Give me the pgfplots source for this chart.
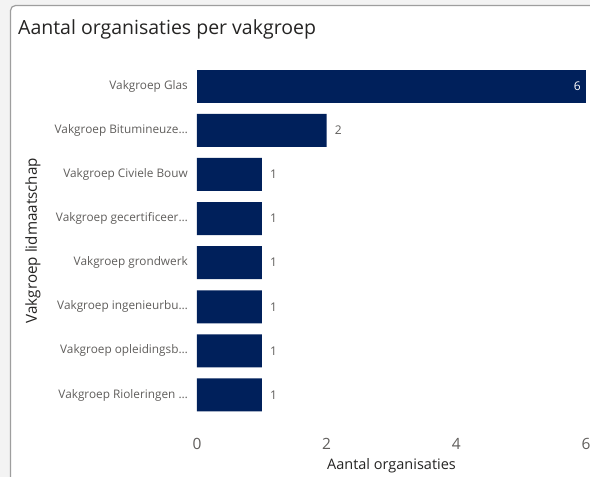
\documentclass[border=0pt]{standalone}
\usepackage{fontspec}
\setmainfont{Open Sans}
\usepackage{pgfplots}
\pgfplotsset{compat=1.18}
\definecolor{barblue}{HTML}{00205B}
\definecolor{ticktext}{HTML}{605E5C}
\definecolor{titletext}{HTML}{252423}
\definecolor{bggray}{HTML}{F3F3F3}
\definecolor{cardborder}{HTML}{9E9E9E}
\begin{document}
\begin{tikzpicture}[x=1pt,y=1pt]
\useasboundingbox (0,0) rectangle (590,-477);
\fill[bggray] (0,0) rectangle (590,-477);
\begin{scope}
\clip (0,0) rectangle (590,-477);
\draw[fill=white, draw=cardborder, line width=1.2pt, rounded corners=5pt] (10.5,-5.5) rectangle (620,-500);
\end{scope}
\node[anchor=base west, inner sep=0pt, text=titletext, font=\fontsize{19.5}{22}\selectfont] at (18,-34) {Aantal organisaties per vakgroep};
\begin{axis}[
  at={(197pt,-417pt)}, anchor=south west,
  scale only axis, width=389pt, height=352.8pt,
  xbar, bar width=33pt,
  xmin=0, xmax=6, ymin=-0.5, ymax=7.5,
  y dir=reverse,
  ytick={0,1,2,3,4,5,6,7},
  yticklabels={{Vakgroep Glas}, {Vakgroep Bitumineuze\dots}, {Vakgroep Civiele Bouw}, {Vakgroep gecertificeer\dots}, {Vakgroep grondwerk}, {Vakgroep ingenieurbu\dots}, {Vakgroep opleidingsb\dots}, {Vakgroep Rioleringen \dots}},
  xtick={0,2,4,6},
  axis line style={draw=none},
  major tick length=0pt,
  /pgf/number format/assume math mode=true,
  xticklabel style={font=\fontsize{15.5}{16}\selectfont, text=ticktext, inner sep=0pt, anchor=north, yshift=-21pt},
  yticklabel style={font=\fontsize{11.8}{13}\selectfont, text=ticktext, inner sep=0pt, anchor=east, xshift=-9pt},
  xlabel={Aantal organisaties},
  xlabel style={at={(axis description cs:0.5,-0.1389)}, anchor=center, font=\fontsize{14.5}{16}\selectfont, text=titletext},
  ylabel={Vakgroep lidmaatschap},
  ylabel style={at={(axis description cs:-0.4216,0.5)}, anchor=center, font=\fontsize{15.2}{17}\selectfont, text=titletext},
  clip=false,
]
\addplot[fill=barblue, draw=none, bar shift=0pt,
  nodes near coords,
  nodes near coords style={anchor=east, inner sep=0pt, xshift=-5pt, text=white, font=\fontsize{12}{13}\selectfont},
] coordinates {(6,0)};
\addplot[fill=barblue, draw=none, bar shift=0pt,
  nodes near coords,
  nodes near coords style={anchor=west, inner sep=0pt, xshift=8pt, text=ticktext, font=\fontsize{12}{13}\selectfont},
] coordinates {(2,1) (1,2) (1,3) (1,4) (1,5) (1,6) (1,7)};
\end{axis}
\end{tikzpicture}
\end{document}
